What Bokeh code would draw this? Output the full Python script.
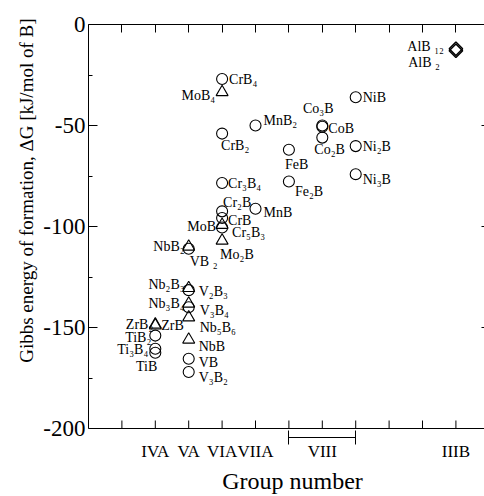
import math
from bokeh.plotting import figure
from bokeh.models import (Range1d, FixedTicker, LinearAxis, ColumnDataSource)
from bokeh.core.properties import value
from bokeh.embed import file_html
from bokeh.resources import INLINE

# ---------------- data ----------------
group_ticks = [1, 2, 3, 4, 5, 6, 7, 8, 9, 10, 11]
group_label_pos = [2, 3, 4, 5, 7, 11]
group_label_txt = ["IVA", "VA", "VIA", "VIIA", "VIII", "IIIB"]
viii_span = [6, 8]
y_major = [0, -50, -100, -150, -200]
y_minor = [-25, -75, -125, -175]
y_right = [-50, -100, -150]
y_bottom = -200

circle_names = ["CrB₄", "CrB₂", "MnB₂", "Co₃B", "CoB", "Co₂B", "FeB", "Fe₂B", "Cr₃B₄",
                "NiB", "Ni₂B", "Ni₃B", "Cr₂B", "CrB", "MnB", "Cr₅B₃", "VB ₂", "V₂B₃",
                "V₃B₄", "VB", "V₃B₂", "TiB₂", "Ti₃B₄", "TiB"]
circle_group = [4, 4, 5, 7, 7, 7, 6, 6, 4,
                8, 8, 8, 4, 4, 5, 4, 3, 3,
                3, 3, 3, 2, 2, 2]
circle_dg = [-27, -54, -50, -50, -50.6, -56, -62, -77.7, -78.5,
             -36, -60.2, -74.1, -92.5, -95.8, -91.2, -100.5, -111, -131.5,
             -140, -165.5, -172, -154, -160.5, -162.5]

triangle_names = ["MoB₄", "MoB", "Mo₂B", "NbB₂", "Nb₂B₃", "Nb₃B₄", "Nb₅B₆", "NbB",
                  "ZrB₂", "ZrB"]
triangle_group = [4, 4, 4, 3, 3, 3, 3, 3, 2, 2]
triangle_dg = [-33.5, -99.2, -107, -110, -130.5, -138.2, -145, -156, -148.5, -149]

diamond_names = ["AlB ₁₂", "AlB ₂"]
diamond_group = [11, 11]
diamond_dg = [-12, -13]

x_title = "Group number"
y_title = "Gibbs energy of formation, ΔG [kJ/mol of B]"

# label placement (style): align, dx, dy (px, dy>0 = down)
circle_lab = [("left", 7, 0), ("left", -1, 12), ("left", 8, -5), ("center", -4, -17),
              ("left", 6, 2), ("left", -8, 12), ("left", -4, 15), ("left", 6, 10),
              ("left", 6, 0), ("left", 7, 0), ("left", 7, 0), ("left", 7, 5),
              ("left", 1, -9), ("left", 6, 2), ("left", 8, 4), ("left", 10, 5),
              ("left", 1, 13), ("left", 10, 1), ("left", 11, 3), ("left", 10, 4),
              ("left", 10, 6), ("right", -4, 2), ("right", -7, 1), ("right", 2, 14)]
triangle_lab = [("right", -7, 3), ("right", -6, 2), ("left", -2, 14), ("right", -4, 0),
                ("right", -4, -4), ("right", -4, 0), ("left", 11, 10), ("left", 10, 7),
                ("right", -2, 0), ("left", 6, 0)]
diamond_lab = [("right", -12, -2), ("right", -16, 12)]

FONT = "Liberation Serif"
NBSP = "\u00a0"
PX_PER_UNIT = 2.02          # vertical scale: 404 px for 200 kJ/mol
FRAME_BOTTOM_PX = 9         # frame reaches 9 px below the -200 spine (bracket line)
y_low = y_bottom - FRAME_BOTTOM_PX / PX_PER_UNIT

p = figure(width=484, height=496, output_backend="svg", toolbar_location=None,
           x_range=Range1d(0, 11.856), y_range=Range1d(y_low, 0),
           min_border_left=88, min_border_right=0, min_border_top=24,
           min_border_bottom=59, background_fill_color="white")
p.grid.visible = False
p.outline_line_color = None

# bracket for group VIII: the primary bottom axis, bounded to 6..8
xa = p.xaxis[0]
xa.ticker = FixedTicker(ticks=viii_span)
xa.bounds = (viii_span[0], viii_span[1])
xa.major_label_overrides = {t: "" for t in viii_span}
xa.major_label_text_font_size = "0px"
xa.major_label_standoff = 0
xa.major_tick_in = 7
xa.major_tick_out = 7
xa.minor_tick_line_color = None
xa.axis_line_color = "black"
xa.major_tick_line_color = "black"

# group labels axis (no line, no ticks) carrying the x title
lab_axis = LinearAxis(ticker=FixedTicker(ticks=group_label_pos),
                      axis_line_color=None, major_tick_line_color=None,
                      minor_tick_line_color=None, major_tick_in=0, major_tick_out=0,
                      major_label_standoff=-3, major_label_text_font=FONT,
                      major_label_text_font_size="17px", major_label_text_color="black",
                      axis_label=NBSP * 2 + x_title, axis_label_standoff=4,
                      axis_label_text_font=FONT, axis_label_text_font_size="24px",
                      axis_label_text_font_style="normal", axis_label_text_color="black")
lab_axis.major_label_overrides = dict(zip(group_label_pos, group_label_txt))
p.add_layout(lab_axis, "below")

# bottom spine at -200 with inward ticks
p.hspan(y=[y_bottom], line_color="black", line_width=1)
p.ray(x=group_ticks, y=[y_bottom] * len(group_ticks), length=8, length_units="screen",
      angle=math.pi / 2, line_color="black", line_width=1)

# left axis
ya = p.yaxis[0]
ya.ticker = FixedTicker(ticks=y_major, minor_ticks=y_minor)
ya.bounds = (y_bottom, 0)
ya.major_label_overrides = {t: str(t) for t in y_major}
ya.major_tick_in = 9
ya.major_tick_out = 0
ya.minor_tick_in = 4
ya.minor_tick_out = 0
ya.major_label_standoff = 3
ya.major_label_text_font = FONT
ya.major_label_text_font_size = "23px"
ya.major_label_text_color = "black"
ya.axis_line_color = "black"
ya.major_tick_line_color = "black"
ya.minor_tick_line_color = "black"

# y title carried by a bare outer left axis (padding shifts it up like the original)
ytitle = LinearAxis(ticker=FixedTicker(ticks=[]),
                    axis_line_color=None, major_tick_line_color=None,
                    minor_tick_line_color=None, major_tick_in=0, major_tick_out=0,
                    major_label_text_font_size="0px", major_label_standoff=0,
                    axis_label=NBSP * 17 + y_title,
                    axis_label_standoff=4, axis_label_text_font=FONT,
                    axis_label_text_font_size="19px", axis_label_text_font_style="normal",
                    axis_label_text_color="black")
p.add_layout(ytitle, "left")

# top axis
top = LinearAxis(ticker=FixedTicker(ticks=group_ticks), major_label_text_font_size="0px",
                 major_label_standoff=0, major_tick_in=8, major_tick_out=0,
                 minor_tick_line_color=None, axis_line_color="black",
                 major_tick_line_color="black")
top.major_label_overrides = {t: "" for t in group_ticks}
p.add_layout(top, "above")

# right axis
right = LinearAxis(ticker=FixedTicker(ticks=y_right), major_label_text_font_size="0px",
                   major_label_standoff=0, major_tick_in=3, major_tick_out=0,
                   minor_tick_line_color=None, axis_line_color="black",
                   major_tick_line_color="black", bounds=(y_bottom, 0))
right.major_label_overrides = {t: "" for t in y_right}
p.add_layout(right, "right")

# markers
p.scatter(circle_group, circle_dg, marker="circle", size=11, fill_color=None,
          line_color="black", line_width=1.1)
p.scatter(triangle_group, triangle_dg, marker="triangle", size=12, fill_color=None,
          line_color="black", line_width=1.1)
p.scatter(diamond_group, diamond_dg, marker="square", angle=math.pi / 4, size=9.5,
          fill_color=None, line_color="black", line_width=1.5)


def add_labels(names, xs, ys, specs):
    for al in ("left", "right", "center"):
        idx = [i for i, s in enumerate(specs) if s[0] == al]
        if not idx:
            continue
        src = ColumnDataSource(dict(
            x=[xs[i] for i in idx], y=[ys[i] for i in idx],
            t=[names[i] for i in idx],
            dx=[specs[i][1] for i in idx], dy=[specs[i][2] for i in idx]))
        p.text(x="x", y="y", text="t", x_offset="dx", y_offset="dy", source=src,
               text_align=al, text_baseline="middle", text_font=value(FONT),
               text_font_size="14px", text_color="black")


add_labels(circle_names, circle_group, circle_dg, circle_lab)
add_labels(triangle_names, triangle_group, triangle_dg, triangle_lab)
add_labels(diamond_names, diamond_group, diamond_dg, diamond_lab)

open("out.html", "w").write(file_html(p, INLINE))
